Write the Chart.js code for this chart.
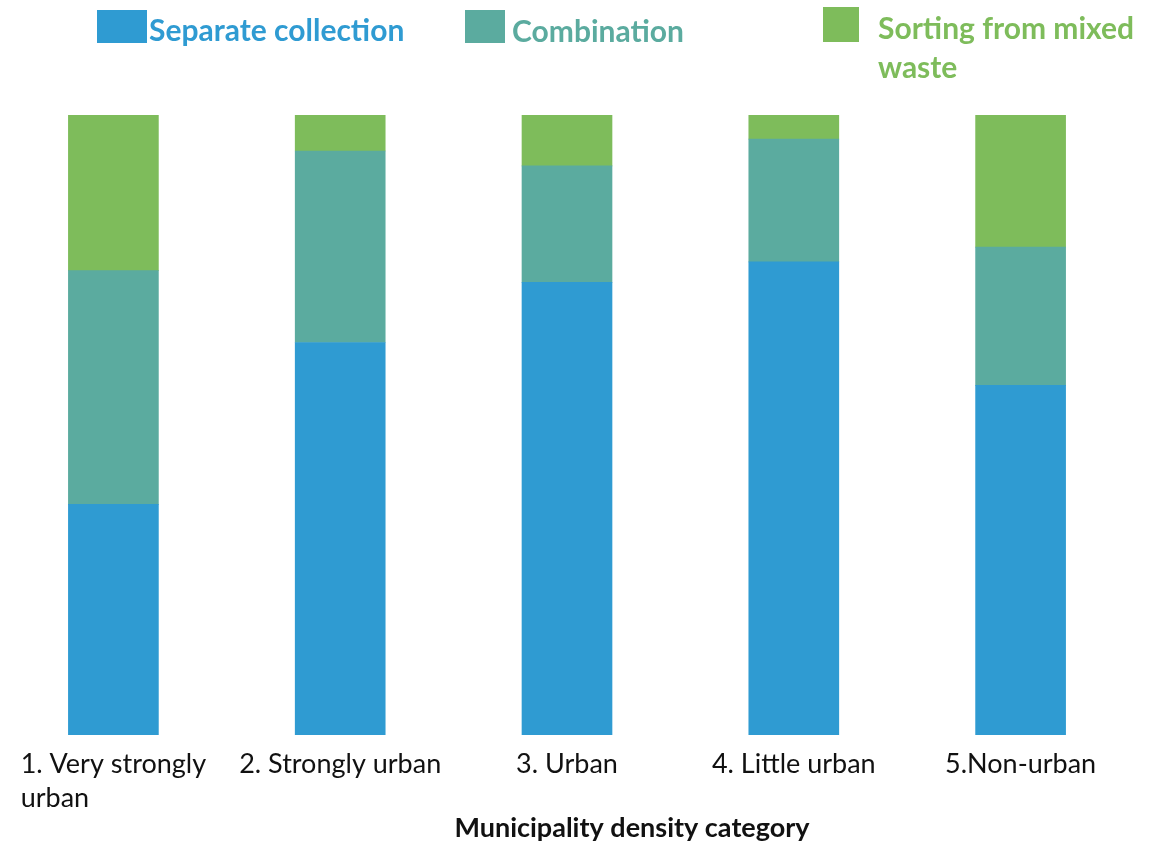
<!DOCTYPE html>
<html lang="en">
<head>
<meta charset="UTF-8">
<title>Collection method by municipality density</title>
<script src="https://cdn.jsdelivr.net/npm/chart.js"></script>
<style>
  body { margin: 0; background: #fff; }
  canvas { display: block; }
</style>
</head>
<body>
<canvas id="myChart" width="1156" height="845"></canvas>
<script>
// categories (each entry = lines of the tick label)
var categories = [
  ['1. Very strongly', 'urban'],
  ['2. Strongly urban'],
  ['3. Urban'],
  ['4. Little urban'],
  ['5.Non-urban']
];
var seriesNames = ['Separate collection', 'Combination', 'Sorting from mixed waste'];
// share of municipalities, percent
var separate = [37.2, 63.3, 73.0, 76.3, 56.4];
var combination = [37.7, 30.9, 18.8, 19.8, 22.3];
var sorting = [25.1, 5.8, 8.2, 3.9, 21.3];
var axisTitle = 'Municipality density category';

var colors = ['#2f9bd2', '#5bab9f', '#7ebc5b'];
var FONT = 'Lato, "Open Sans", sans-serif';

// legend + labels drawn by hand, the layout of the original is rather loose
var labelsPlugin = {
  id: 'labels',
  afterDraw: function(chart) {
    var ctx = chart.ctx;
    var x = chart.scales.x;
    ctx.save();

    // legend
    var legend = [
      { box: [97, 10, 50, 33], tx: 149, ty: 31, lines: ['Separate collection'] },
      { box: [465, 10, 40, 33], tx: 512, ty: 32, lines: ['Combination'] },
      { box: [823, 7, 36, 35], tx: 878, ty: 29, lines: ['Sorting from mixed', 'waste'] }
    ];
    ctx.font = 'bold 30px ' + FONT;
    ctx.textBaseline = 'middle';
    ctx.textAlign = 'left';
    legend.forEach(function(l, i) {
      ctx.fillStyle = colors[i];
      ctx.fillRect(l.box[0], l.box[1], l.box[2], l.box[3]);
      l.lines.forEach(function(t, j) {
        ctx.fillText(t, l.tx, l.ty + j * 39);
      });
    });

    // category labels, block centred under bar, lines left aligned
    ctx.font = '27px ' + FONT;
    ctx.fillStyle = '#111';
    categories.forEach(function(lines, i) {
      var cx = x.getPixelForValue(i);
      var w = 0;
      lines.forEach(function(t) { w = Math.max(w, ctx.measureText(t).width); });
      lines.forEach(function(t, j) {
        ctx.fillText(t, cx - w / 2, 764 + j * 34);
      });
    });

    // axis title
    ctx.font = 'bold 27px ' + FONT;
    ctx.textAlign = 'center';
    ctx.fillText(axisTitle, 632, 828);
    ctx.restore();
  }
};

new Chart(document.getElementById('myChart'), {
  type: 'bar',
  data: {
    labels: categories,
    datasets: [
      { label: seriesNames[0], data: separate, backgroundColor: colors[0] },
      { label: seriesNames[1], data: combination, backgroundColor: colors[1] },
      { label: seriesNames[2], data: sorting, backgroundColor: colors[2] }
    ]
  },
  options: {
    responsive: false,
    animation: false,
    layout: { padding: { top: 115, bottom: 110, left: 0, right: 22 } },
    datasets: { bar: { barThickness: 90, borderWidth: 0 } },
    plugins: {
      legend: { display: false },
      tooltip: { enabled: false }
    },
    scales: {
      x: { stacked: true, display: false },
      y: { stacked: true, display: false, min: 0, max: 100 }
    }
  },
  plugins: [labelsPlugin]
});
</script>
</body>
</html>
